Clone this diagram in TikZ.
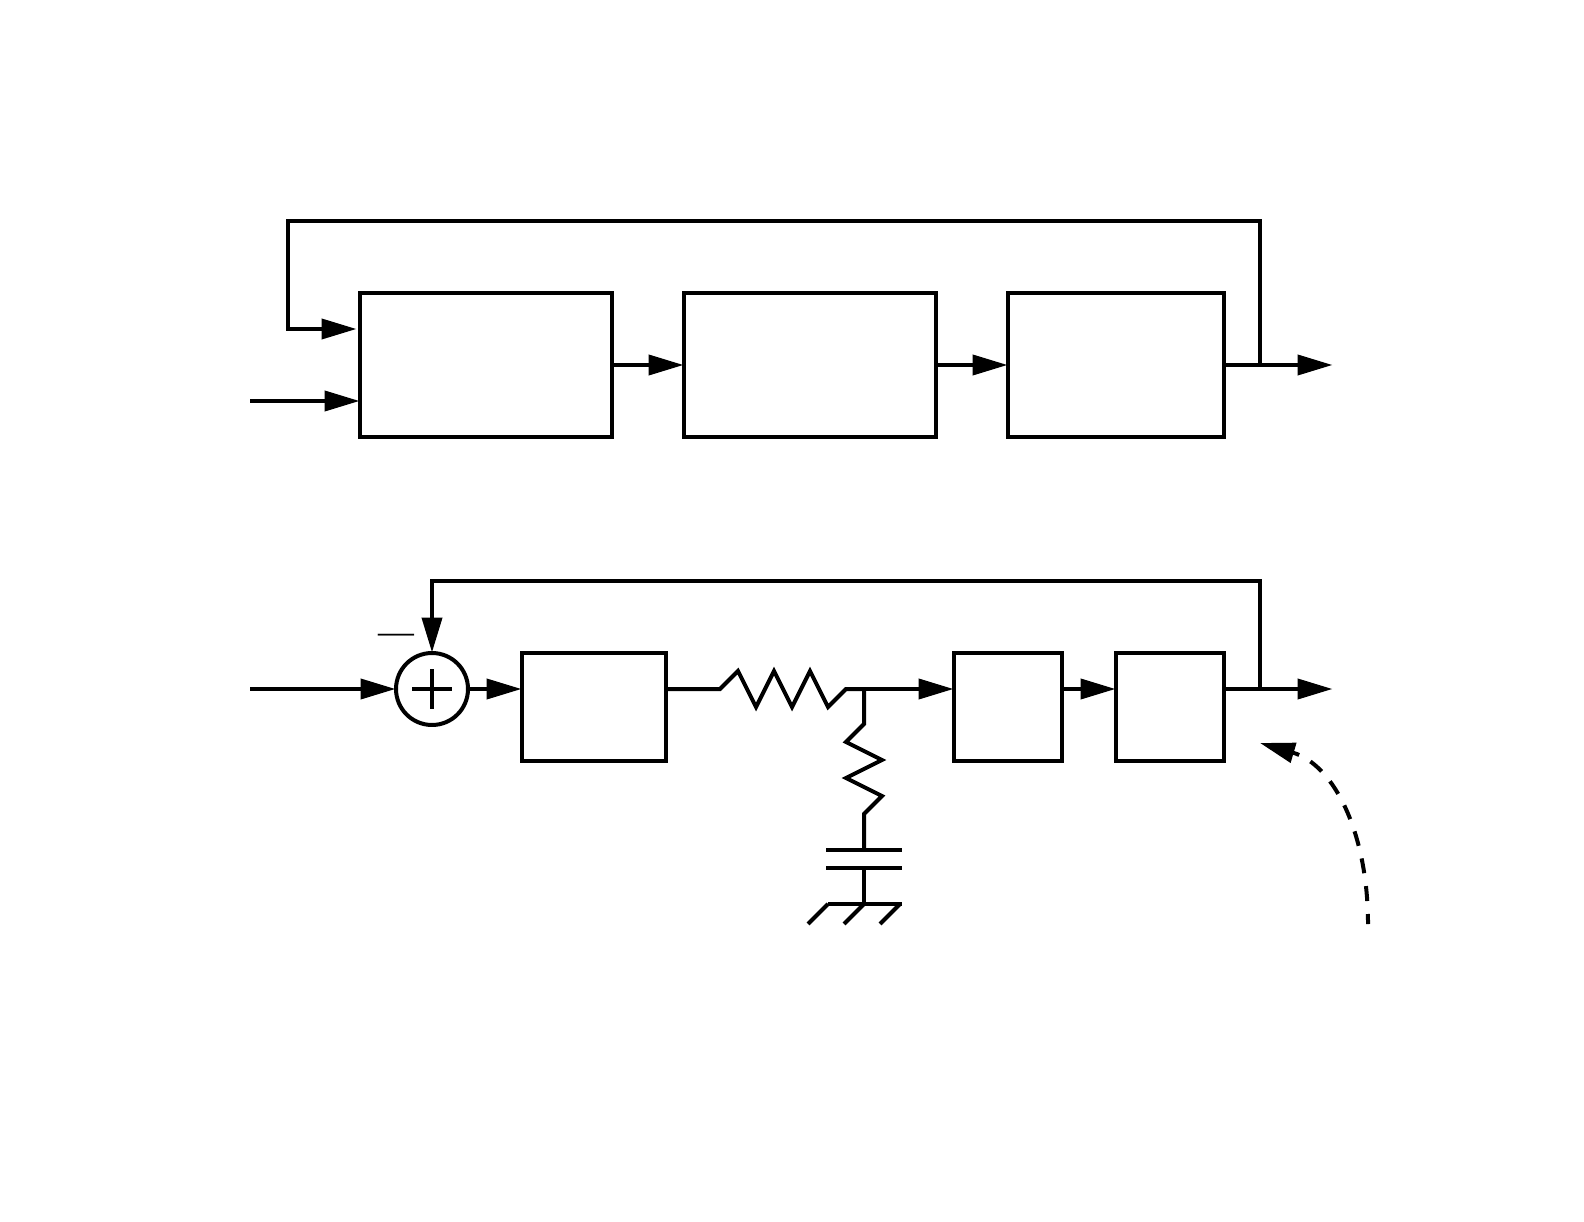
\documentclass[tikz,border=0pt]{standalone}
\usepackage{fontspec}
\setmainfont{Liberation Serif}
\usepackage{tikz}
\usetikzlibrary{arrows.meta}

\begin{document}
\begin{tikzpicture}[x=0.02cm, y=-0.02cm, line width=0.08cm, ->, >={Triangle[length=0.7cm, width=0.4cm]}, shorten >=-0.03cm, main/.style = {rectangle, draw, fill=none, minimum height=2.88cm, inner sep=0pt}, small/.style = {rectangle, draw, fill=none, minimum height=2.16cm, inner sep=0pt}, summer/.style = {circle, draw, fill=none, minimum size=1.44cm, inner sep=0pt}, wire/.style={-, shorten >=0pt}]
\useasboundingbox (0,0) rectangle (1584,1222);

% top row
\node[main, minimum width=5.04cm] (plant1) at (486,365) {};
\node[main, minimum width=5.04cm] (plant2) at (810,365) {};
\node[main, minimum width=4.32cm] (plant3) at (1116,365) {};
\coordinate (in1) at (250,401);
\coordinate (fbin1) at (355,329);
\coordinate (tap1) at (1260,365);
\coordinate (top1) at (288,221);
\coordinate (out1) at (1331,365);

\path
 (in1) edge (plant1.west |- in1)
 (plant1) edge (plant2)
 (plant2) edge (plant3)
 (plant3) edge (out1);
\draw (tap1) |- (top1) |- (fbin1);

% bottom row
\node[summer] (sum) at (432,689) {};
\node[small, minimum width=2.88cm] (ctrl) at (594,707) {};
\node[small, minimum width=2.16cm] (amp1) at (1008,707) {};
\node[small, minimum width=2.16cm] (amp2) at (1170,707) {};
\node[inner sep=0pt, font=\fontsize{20.4}{20.4}\selectfont] (minus) at (396,639) {—};
\coordinate (in2) at (250,689);
\coordinate (tap2) at (1260,689);
\coordinate (top2) at (432,581);
\coordinate (out2) at (1331,689);
\coordinate (jct) at (864,689);
\coordinate (capa) at (864,850);
\coordinate (capb) at (864,868);
\coordinate (gnd) at (864,904);

\draw[wire] (sum) +(-20,0) -- +(20,0) (sum) +(0,-20) -- +(0,20);

\path
 (in2) edge (sum)
 (sum) edge (ctrl.west |- sum)
 (jct) edge (amp1.west |- sum)
 (amp1.east |- sum) edge (amp2.west |- sum)
 (amp2.east |- sum) edge (out2);
\draw (tap2) |- (top2) -- (sum);

% series resistor
\draw[wire] (ctrl.east |- sum) -- (720,689) -- ++(18,-18) -- ++(18,36) -- ++(18,-36) -- ++(18,36) -- ++(18,-36) -- ++(18,36) -- ++(18,-18) -- (jct);

% shunt resistor, capacitor, ground
\draw[wire] (jct) -- (864,724) -- ++(-18,18) -- ++(36,18) -- ++(-36,18) -- ++(36,18) -- ++(-18,18) -- (capa);
\draw[wire] (capb) -- (gnd);
\draw[wire] (826,850) -- (902,850);
\draw[wire] (826,868) -- (902,868);
\draw[wire] (828,904) -- (902,904);
\draw[wire] (828,904) -- ++(-20,20);
\draw[wire] (gnd) -- ++(-20,20);
\draw[wire] (900,904) -- ++(-20,20);

% dashed pointer
\coordinate (dashstart) at (1368,924);
\coordinate (dashtip) at (1260,743);
\draw[shorten >=0pt, dash pattern=on 0.3cm off 0.26cm, dash phase=0.1cm] (dashstart) .. controls (1368,835) and (1335,765) .. (dashtip);
\end{tikzpicture}
\end{document}
